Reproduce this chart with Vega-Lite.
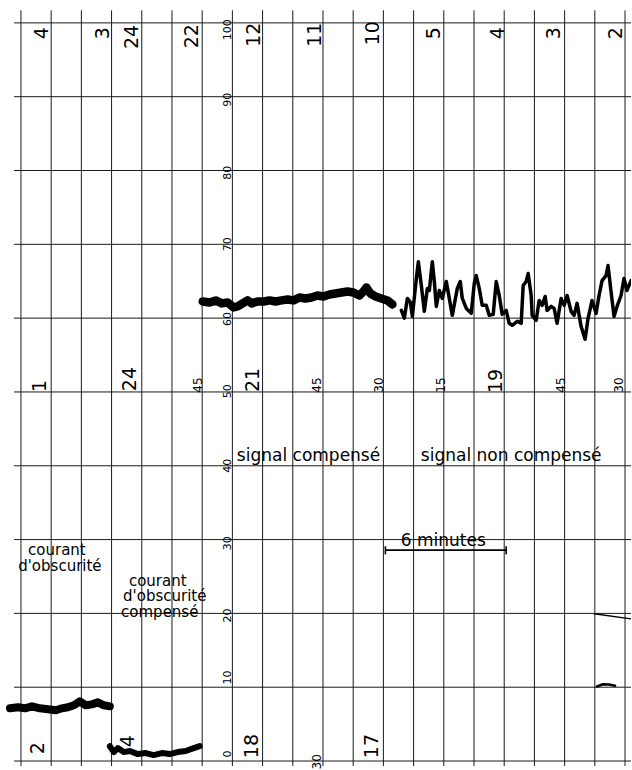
{
  "$schema": "https://vega.github.io/schema/vega-lite/v6.json",
  "width": 632,
  "height": 770,
  "autosize": {"type": "fit", "contains": "padding"},
  "padding": 0,
  "background": "white",
  "config": {"view": {"stroke": null}, "text": {"font": "DejaVu Sans", "color": "black"}},
  "datasets": {
    "vgrid": [{"x":0},{"x":1},{"x":2},{"x":3},{"x":4},{"x":5},{"x":6},{"x":7},{"x":8},{"x":9},{"x":10},{"x":11},{"x":12},{"x":13},{"x":14},{"x":15},{"x":16},{"x":17},{"x":18},{"x":19},{"x":20}],
    "hgrid": [{"y":0},{"y":10},{"y":20},{"y":30},{"y":40},{"y":50},{"y":60},{"y":70},{"y":80},{"y":90},{"y":100}],
    "bar": [
      {"x":12.066,"x2":16.066,"y":28.57,"y2":28.57},
      {"x":12.066,"x2":12.066,"y":28.0,"y2":29.1},
      {"x":16.066,"x2":16.066,"y":28.0,"y2":29.1}
    ],
    "traces": [
      {"s":"A","x":-0.364,"y":7.14},{"s":"A","x":-0.099,"y":7.28},{"s":"A","x":0.132,"y":7.14},{"s":"A","x":0.364,"y":7.41},{"s":"A","x":0.628,"y":7.14},{"s":"A","x":0.893,"y":7.01},{"s":"A","x":1.157,"y":6.87},{"s":"A","x":1.355,"y":7.14},{"s":"A","x":1.554,"y":7.28},{"s":"A","x":1.752,"y":7.55},{"s":"A","x":1.95,"y":8.09},{"s":"A","x":2.149,"y":7.55},{"s":"A","x":2.347,"y":7.68},{"s":"A","x":2.545,"y":7.95},{"s":"A","x":2.744,"y":7.55},{"s":"A","x":2.942,"y":7.41},
      {"s":"B","x":2.942,"y":2.0},{"s":"B","x":3.074,"y":1.21},{"s":"B","x":3.207,"y":1.75},{"s":"B","x":3.405,"y":1.21},{"s":"B","x":3.603,"y":1.35},{"s":"B","x":3.868,"y":0.94},{"s":"B","x":4.132,"y":1.08},{"s":"B","x":4.397,"y":0.81},{"s":"B","x":4.661,"y":1.08},{"s":"B","x":4.926,"y":0.94},{"s":"B","x":5.19,"y":1.21},{"s":"B","x":5.455,"y":1.35},{"s":"B","x":5.719,"y":1.75},{"s":"B","x":5.917,"y":2.02},
      {"s":"C","x":6.017,"y":62.26},{"s":"C","x":6.248,"y":62.13},{"s":"C","x":6.446,"y":62.4},{"s":"C","x":6.645,"y":62.0},{"s":"C","x":6.843,"y":62.13},{"s":"C","x":7.041,"y":61.46},{"s":"C","x":7.174,"y":61.59},{"s":"C","x":7.339,"y":62.0},{"s":"C","x":7.504,"y":62.4},{"s":"C","x":7.636,"y":62.0},{"s":"C","x":7.835,"y":62.26},{"s":"C","x":8.033,"y":62.26},{"s":"C","x":8.231,"y":62.4},{"s":"C","x":8.43,"y":62.26},{"s":"C","x":8.628,"y":62.4},{"s":"C","x":8.826,"y":62.53},{"s":"C","x":9.025,"y":62.4},{"s":"C","x":9.223,"y":62.8},{"s":"C","x":9.421,"y":62.67},{"s":"C","x":9.62,"y":62.8},{"s":"C","x":9.818,"y":63.07},{"s":"C","x":10.017,"y":62.94},{"s":"C","x":10.215,"y":63.21},{"s":"C","x":10.413,"y":63.34},{"s":"C","x":10.612,"y":63.48},{"s":"C","x":10.81,"y":63.61},{"s":"C","x":11.008,"y":63.48},{"s":"C","x":11.207,"y":63.07},{"s":"C","x":11.339,"y":63.61},{"s":"C","x":11.438,"y":64.15},{"s":"C","x":11.57,"y":63.34},{"s":"C","x":11.736,"y":62.94},{"s":"C","x":11.934,"y":62.67},{"s":"C","x":12.132,"y":62.4},{"s":"C","x":12.298,"y":61.86},
      {"s":"D","x":12.595,"y":61.05},{"s":"D","x":12.694,"y":60.0},{"s":"D","x":12.793,"y":62.67},{"s":"D","x":12.893,"y":62.13},{"s":"D","x":12.959,"y":60.24},{"s":"D","x":13.091,"y":65.36},{"s":"D","x":13.157,"y":67.65},{"s":"D","x":13.256,"y":64.42},{"s":"D","x":13.355,"y":60.92},{"s":"D","x":13.455,"y":64.02},{"s":"D","x":13.521,"y":63.75},{"s":"D","x":13.62,"y":67.65},{"s":"D","x":13.686,"y":64.96},{"s":"D","x":13.752,"y":61.59},{"s":"D","x":13.851,"y":63.75},{"s":"D","x":13.95,"y":62.67},{"s":"D","x":14.083,"y":64.96},{"s":"D","x":14.182,"y":62.67},{"s":"D","x":14.281,"y":60.38},{"s":"D","x":14.446,"y":64.02},{"s":"D","x":14.545,"y":64.96},{"s":"D","x":14.612,"y":62.67},{"s":"D","x":14.744,"y":61.32},{"s":"D","x":14.909,"y":60.65},{"s":"D","x":15.008,"y":64.69},{"s":"D","x":15.074,"y":65.77},{"s":"D","x":15.174,"y":64.02},{"s":"D","x":15.273,"y":61.73},{"s":"D","x":15.405,"y":61.73},{"s":"D","x":15.504,"y":60.38},{"s":"D","x":15.636,"y":60.51},{"s":"D","x":15.736,"y":64.96},{"s":"D","x":15.835,"y":63.07},{"s":"D","x":15.934,"y":60.51},{"s":"D","x":16.066,"y":61.05},{"s":"D","x":16.165,"y":59.3},{"s":"D","x":16.264,"y":59.03},{"s":"D","x":16.43,"y":59.57},{"s":"D","x":16.562,"y":59.3},{"s":"D","x":16.628,"y":64.42},{"s":"D","x":16.727,"y":64.96},{"s":"D","x":16.793,"y":66.04},{"s":"D","x":16.893,"y":63.07},{"s":"D","x":16.926,"y":60.38},{"s":"D","x":17.058,"y":59.7},{"s":"D","x":17.157,"y":62.4},{"s":"D","x":17.256,"y":61.73},{"s":"D","x":17.355,"y":62.94},{"s":"D","x":17.421,"y":61.05},{"s":"D","x":17.554,"y":61.59},{"s":"D","x":17.653,"y":61.32},{"s":"D","x":17.752,"y":59.3},{"s":"D","x":17.884,"y":62.67},{"s":"D","x":17.983,"y":61.73},{"s":"D","x":18.083,"y":63.07},{"s":"D","x":18.215,"y":60.92},{"s":"D","x":18.314,"y":60.38},{"s":"D","x":18.413,"y":62.0},{"s":"D","x":18.545,"y":58.89},{"s":"D","x":18.678,"y":57.14},{"s":"D","x":18.777,"y":59.97},{"s":"D","x":18.909,"y":62.4},{"s":"D","x":19.041,"y":60.65},{"s":"D","x":19.14,"y":63.07},{"s":"D","x":19.24,"y":65.09},{"s":"D","x":19.372,"y":65.77},{"s":"D","x":19.438,"y":67.12},{"s":"D","x":19.537,"y":63.61},{"s":"D","x":19.636,"y":60.24},{"s":"D","x":19.736,"y":61.59},{"s":"D","x":19.868,"y":63.07},{"s":"D","x":19.967,"y":65.36},{"s":"D","x":20.066,"y":63.75},{"s":"D","x":20.198,"y":65.09},
      {"s":"E","x":18.975,"y":19.95},{"s":"E","x":20.198,"y":19.27},
      {"s":"F","x":19.07,"y":10.1},{"s":"F","x":19.27,"y":10.4},{"s":"F","x":19.47,"y":10.38},{"s":"F","x":19.67,"y":10.2}
    ],
    "bignum": [
      {"t":"4","x":0.694,"y":98.6},{"t":"3","x":2.711,"y":98.6},{"t":"24","x":3.669,"y":98.1},{"t":"22","x":5.653,"y":98.2},{"t":"12","x":7.702,"y":98.4},{"t":"11","x":9.719,"y":98.4},{"t":"10","x":11.669,"y":98.6},{"t":"5","x":13.686,"y":98.6},{"t":"4","x":15.802,"y":98.6},{"t":"3","x":17.653,"y":98.6},{"t":"2","x":19.702,"y":98.6},
      {"t":"1","x":0.628,"y":50.8},{"t":"24","x":3.603,"y":51.75},{"t":"21","x":7.669,"y":51.62},{"t":"19","x":15.736,"y":51.48},
      {"t":"2","x":0.562,"y":1.75},{"t":"4","x":3.537,"y":2.7},{"t":"18","x":7.636,"y":2.02},{"t":"17","x":11.636,"y":2.02}
    ],
    "smallnum": [
      {"t":"45","x":5.851,"y":50.94},{"t":"45","x":9.818,"y":50.94},{"t":"30","x":11.868,"y":50.94},{"t":"15","x":13.917,"y":50.94},{"t":"45","x":17.884,"y":50.94},{"t":"30","x":19.802,"y":50.94},{"t":"30","x":9.818,"y":-0.1}
    ],
    "axisnum": [
      {"t":"100","x":6.843,"y":99.06},{"t":"90","x":6.843,"y":89.6},{"t":"80","x":6.843,"y":79.7},{"t":"70","x":6.843,"y":70.0},{"t":"60","x":6.843,"y":59.9},{"t":"50","x":6.843,"y":50.1},{"t":"40","x":6.843,"y":40.0},{"t":"30","x":6.843,"y":29.5},{"t":"20","x":6.843,"y":19.7},{"t":"10","x":6.843,"y":11.3},{"t":"0","x":6.843,"y":0.94}
    ],
    "stacked": [
      {"t":"courant","x":1.19,"y":27.9},
      {"t":"d'obscurité","x":1.289,"y":25.74},
      {"t":"courant","x":4.529,"y":23.72},
      {"t":"d'obscurité","x":4.76,"y":21.7},
      {"t":"compensé","x":4.595,"y":19.54}
    ],
    "notes": [
      {"t":"signal compensé","x":9.521,"y":40.7},
      {"t":"signal non compensé","x":16.231,"y":40.7},
      {"t":"6 minutes","x":13.983,"y":29.11}
    ]
  },
  "layer": [
    {
      "data": {"name": "vgrid"},
      "mark": {"type": "rule", "color": "#1a1a1a", "strokeWidth": 1},
      "encoding": {
        "x": {"field": "x", "type": "quantitative", "scale": {"domain": [-0.694, 20.198], "nice": false, "zero": false}, "axis": null},
        "y": {"datum": -0.674, "type": "quantitative", "scale": {"domain": [-0.674, 103.1], "nice": false, "zero": false}, "axis": null},
        "y2": {"datum": 101.7}
      }
    },
    {
      "data": {"name": "hgrid"},
      "mark": {"type": "rule", "color": "#1a1a1a", "strokeWidth": 1},
      "encoding": {
        "y": {"field": "y", "type": "quantitative", "scale": {"domain": [-0.674, 103.1], "nice": false, "zero": false}, "axis": null},
        "x": {"datum": -0.23, "type": "quantitative", "scale": {"domain": [-0.694, 20.198], "nice": false, "zero": false}, "axis": null},
        "x2": {"datum": 20.198}
      }
    },
    {
      "data": {"name": "bar"},
      "mark": {"type": "rule", "color": "black", "strokeWidth": 1.6},
      "encoding": {
        "x": {"field": "x", "type": "quantitative", "scale": {"domain": [-0.694, 20.198], "nice": false, "zero": false}, "axis": null},
        "x2": {"field": "x2"},
        "y": {"field": "y", "type": "quantitative", "scale": {"domain": [-0.674, 103.1], "nice": false, "zero": false}, "axis": null},
        "y2": {"field": "y2"}
      }
    },
    {
      "data": {"name": "traces"},
      "mark": {"type": "line", "color": "black", "strokeCap": "round", "strokeJoin": "round", "clip": true},
      "encoding": {
        "x": {"field": "x", "type": "quantitative", "scale": {"domain": [-0.694, 20.198], "nice": false, "zero": false}, "axis": null},
        "y": {"field": "y", "type": "quantitative", "scale": {"domain": [-0.674, 103.1], "nice": false, "zero": false}, "axis": null},
        "detail": {"field": "s", "type": "nominal"},
        "strokeWidth": {"field": "s", "type": "nominal", "scale": {"type": "ordinal", "domain": ["A","B","C","D","E","F"], "range": [8, 6, 8.5, 3.5, 1.3, 2.5]}, "legend": null}
      }
    },
    {
      "data": {"name": "bignum"},
      "mark": {"type": "text", "angle": 270, "fontSize": 19, "align": "center", "baseline": "middle"},
      "encoding": {
        "x": {"field": "x", "type": "quantitative", "scale": {"domain": [-0.694, 20.198], "nice": false, "zero": false}, "axis": null},
        "y": {"field": "y", "type": "quantitative", "scale": {"domain": [-0.674, 103.1], "nice": false, "zero": false}, "axis": null},
        "text": {"field": "t"}
      }
    },
    {
      "data": {"name": "smallnum"},
      "mark": {"type": "text", "angle": 270, "fontSize": 12, "align": "center", "baseline": "middle"},
      "encoding": {
        "x": {"field": "x", "type": "quantitative", "scale": {"domain": [-0.694, 20.198], "nice": false, "zero": false}, "axis": null},
        "y": {"field": "y", "type": "quantitative", "scale": {"domain": [-0.674, 103.1], "nice": false, "zero": false}, "axis": null},
        "text": {"field": "t"}
      }
    },
    {
      "data": {"name": "axisnum"},
      "mark": {"type": "text", "angle": 270, "fontSize": 11, "align": "center", "baseline": "middle"},
      "encoding": {
        "x": {"field": "x", "type": "quantitative", "scale": {"domain": [-0.694, 20.198], "nice": false, "zero": false}, "axis": null},
        "y": {"field": "y", "type": "quantitative", "scale": {"domain": [-0.674, 103.1], "nice": false, "zero": false}, "axis": null},
        "text": {"field": "t"}
      }
    },
    {
      "data": {"name": "stacked"},
      "mark": {"type": "text", "fontSize": 15, "align": "center", "baseline": "alphabetic"},
      "encoding": {
        "x": {"field": "x", "type": "quantitative", "scale": {"domain": [-0.694, 20.198], "nice": false, "zero": false}, "axis": null},
        "y": {"field": "y", "type": "quantitative", "scale": {"domain": [-0.674, 103.1], "nice": false, "zero": false}, "axis": null},
        "text": {"field": "t"}
      }
    },
    {
      "data": {"name": "notes"},
      "mark": {"type": "text", "fontSize": 17, "align": "center", "baseline": "alphabetic"},
      "encoding": {
        "x": {"field": "x", "type": "quantitative", "scale": {"domain": [-0.694, 20.198], "nice": false, "zero": false}, "axis": null},
        "y": {"field": "y", "type": "quantitative", "scale": {"domain": [-0.674, 103.1], "nice": false, "zero": false}, "axis": null},
        "text": {"field": "t"}
      }
    }
  ]
}
